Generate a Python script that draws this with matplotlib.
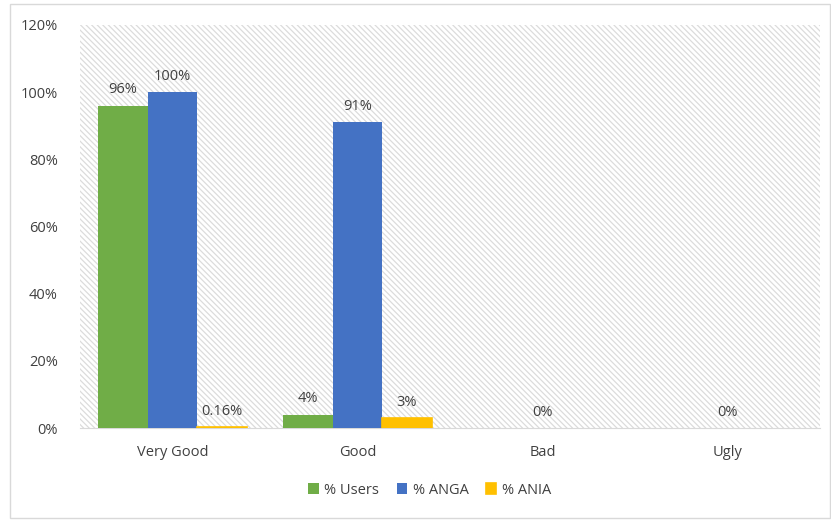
import numpy as np
import matplotlib.pyplot as plt
from matplotlib.patches import Rectangle

categories = ['Very Good', 'Good', 'Bad', 'Ugly']
users = [96, 4, np.nan, np.nan]
anga = [100, 91, 0, 0]
ania = [0.16, 3, np.nan, np.nan]
series_names = ['% Users', '% ANGA', '% ANIA']
colors = ['#70AD47', '#4472C4', '#FFC000']

plt.rcParams['font.family'] = ['Open Sans', 'DejaVu Sans']
plt.rcParams['hatch.linewidth'] = 0.9
plt.rcParams['hatch.color'] = '#DCDCDC'

fig = plt.figure(figsize=(8.31, 5.21), dpi=100)
ax = fig.add_axes([80 / 831, 1 - 428 / 521, 740 / 831, 403 / 521])

# hatched plot area background
ax.add_patch(Rectangle((0, 0), 1, 1, transform=ax.transAxes, facecolor='white',
                       edgecolor='#DCDCDC', hatch='\\\\\\\\\\\\', linewidth=0, zorder=0))

x = np.arange(len(categories))
w = 0.267
for i, (vals, name, c) in enumerate(zip([users, anga, ania], series_names, colors)):
    pos = x + (i - 1) * w
    # tiny yellow bar (0.16%) needs an outline to stay visible
    lw = 1.2 if name == '% ANIA' else 0
    ax.bar(pos, vals, w, color=c, edgecolor=c, linewidth=lw, label=name, zorder=3)
    for p, v in zip(pos, vals):
        if np.isnan(v):
            continue
        ax.text(p, v + 2.5, f'{v:g}%', ha='center', va='bottom', fontsize=10.5, color='#404040')

ax.set_xlim(-0.5, 3.5)
ax.set_ylim(0, 120)
ax.set_yticks(np.arange(0, 121, 20))
ax.set_yticklabels([f'{t}%' for t in range(0, 121, 20)])
ax.set_xticks(x)
ax.set_xticklabels(categories)
ax.tick_params(axis='both', length=0, labelsize=10.5, colors='#404040')
ax.tick_params(axis='y', pad=16)
ax.tick_params(axis='x', pad=12)
for s in ['top', 'right', 'left']:
    ax.spines[s].set_visible(False)
ax.spines['bottom'].set_color('#D9D9D9')
ax.spines['bottom'].set_zorder(1)
ax.patch.set_visible(False)

leg = fig.legend(loc='center', bbox_to_anchor=(430 / 831, 1 - 490 / 521), ncol=3,
                 frameon=False, fontsize=10.5, handlelength=0.7, handleheight=0.7,
                 handletextpad=0.4, columnspacing=1.2)
for t in leg.get_texts():
    t.set_color('#404040')

# light border around the chart
fig.patches.append(Rectangle((10 / 831, 3 / 521), 820 / 831, 514 / 521, transform=fig.transFigure,
                             fill=False, edgecolor='#D9D9D9', linewidth=1))

fig.savefig('out.png', dpi=100)
